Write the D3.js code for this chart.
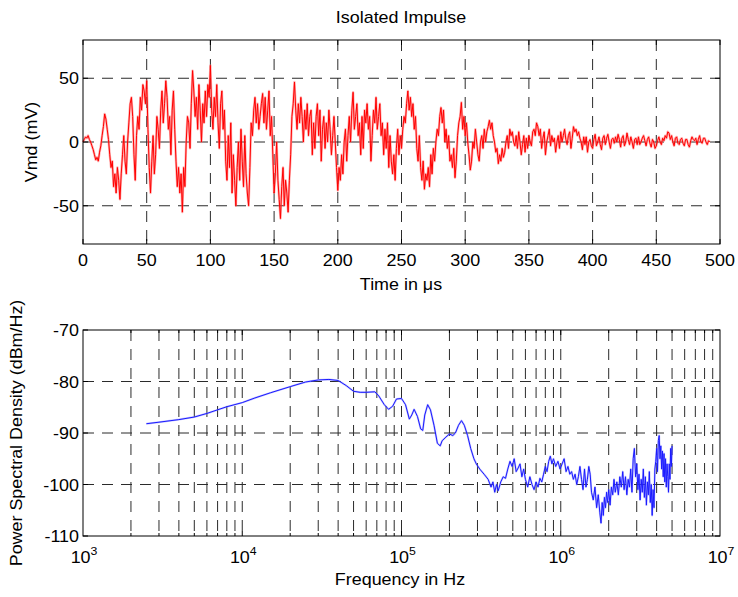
<!DOCTYPE html>
<html>
<head>
<meta charset="utf-8">
<script src="https://cdn.jsdelivr.net/npm/d3@7"></script>
<style>
  html, body { margin: 0; padding: 0; background: #fff; }
  svg { display: block; }
  text { font-family: "Liberation Sans", Arial, sans-serif; fill: #000; }
</style>
</head>
<body>
<svg id="chart" width="738" height="597"></svg>
<script>
// ---------------- DATA ----------------
const chartTitle = "Isolated Impulse";
const timeStep = 1; // microseconds between samples
const impulseValues = [
  0, 2, 4, 3, 5, 2, 0, -3, -6, -10,
  -14, -12, -15, -8, -3, 5, 12, 22, 18, 10,
  2, -10, -20, -15, -35, -25, -40, -20, -30, -45,
  -25, -10, 5, -15, -25, 0, 15, 30, 35, 20,
  -10, -30, 5, 20, 10, 35, 25, 45, 40, 30,
  48, 10, -20, -40, -15, 5, -25, -10, 20, 10,
  -5, 25, 40, 15, 30, 48, 35, 10, 20, -10,
  25, 40, 10, -15, -35, -20, -40, -25, -55, -20,
  -35, 0, 20, 15, -5, 30, 56, 40, 20, 35,
  10, 45, 25, 0, 30, 15, 40, 20, 45, 35,
  60, 25, 10, 35, 20, 45, 15, -5, 30, 40,
  10, 25, -15, -30, 5, -20, 15, -40, -10, -30,
  -50, -20, 0, -30, 10, -15, -35, 5, -25, -40,
  -50, -20, 15, 5, 25, 35, 15, 30, 10, 20,
  30, 38, 15, 35, 10, 25, 40, 5, 20, -10,
  -40, -25, 0, -30, -45, -60, -35, -20, -50, -30,
  -40, -55, -30, -10, 20, 30, 47, 25, 10, 30,
  15, 35, 20, 0, 25, 10, 30, 5, 20, 25,
  -10, 15, -5, 20, 30, 5, 25, -15, 10, 20,
  -5, 15, 0, 25, 10, -10, 5, 20, 0, -20,
  -38, -20, -30, -10, -25, 0, 10, -15, 5, 20,
  0, 25, 39, 10, 20, 30, 5, 15, -10, 20,
  -5, 25, 15, 30, 10, 20, -15, 5, 25, 15,
  35, 10, 20, 30, 5, 15, -10, 10, -5, 15,
  -20, 5, -15, -25, -10, -30, -5, 10, -10, 5,
  -5, 10, 20, 15, 30, 40, 25, 35, 20, 30,
  10, 20, -5, -15, 5, -20, -30, -15, -37, -25,
  -30, -20, -35, -10, -25, -5, -15, 0, 10, 5,
  20, 27, 15, 25, 0, 10, -5, 5, -15, -10,
  -20, -5, -28, -15, 5, 15, 20, 31, 10, 20,
  5, 15, 0, -10, -22, -15, 0, -5, 10, 0,
  -10, -15, 0, 5, -5, 10, 0, 8, 12, 17,
  10, 15, 5, 0, -8, -5, -17, -10, -15, -5,
  -12, -8, 0, 5, -5, 10, 5, 8, 0, -3,
  5, -5, 8, 0, -10, -2, 5, -8, 3, -5,
  5, 0, -3, 8, 10, 5, 15, 12, 5, 10,
  -5, 3, 8, -10, 0, 5, 10, -3, 5, 0,
  3, -8, 0, 5, -5, 8, 0, 5, 10, 2,
  -2, 5, 8, -5, 3, 12, 8, 10, 5, 8,
  3, 0, -6, 4, -2, 4, -8, 0, 2, -3,
  -5, 2, 6, -3, 0, 4, -2, -6, 3, 5,
  -2, 3, 6, 0, -5, 2, 3, -1, 4, 0,
  6, 2, -4, 3, 5, -3, 0, 7, 2, -2,
  4, 0, -5, 2, 3, -2, 4, -2, 0, 3,
  5, 1, -3, 2, 4, -1, -4, 2, 0, -5,
  -3, 1, 4, 0, -2, 3, 1, 5, 3, 8,
  7, 2, 5, 0, -3, 3, 4, -1, -2, 2,
  3, -1, -3, 2, 2, -2, -4, 1, 4, 2,
  1, 3, -2, 2, 5, 0, -1, 3, 3, 0,
  -2, 1, 0
];
const timeTicks = [0, 50, 100, 150, 200, 250, 300, 350, 400, 450, 500];
const voltTicks = [-50, 0, 50];

const psdFreq = [
  2500, 3000, 4000, 5000, 6000, 7000, 8000, 10000, 12000, 15000,
  20000, 25000, 30000, 35000, 40000, 45000, 50000, 55000, 60000, 68000,
  72000, 78000, 83000, 88000, 93000, 100000, 106000, 112000, 116000, 120000,
  126000, 132000, 136000, 140000, 146000, 152000, 160000, 168000, 175000, 180000,
  190000, 200000, 210000, 218000, 228000, 238000, 248000, 260000, 272000, 285000,
  295000, 310000, 330000, 350000, 365000, 375000, 385000, 395000, 405000, 420000,
  435000, 450000, 465000, 480000, 495000, 510000, 525000, 540000, 555000, 570000,
  585000, 600000, 620000, 640000, 660000, 680000, 700000, 720000, 740000, 760000,
  780000, 800000, 820000, 840000, 860000, 880000, 900000, 930000, 960000, 990000,
  1020000, 1050000, 1080000, 1110000, 1140000, 1170000, 1200000, 1230000, 1260000, 1290000,
  1320000, 1350000, 1380000, 1410000, 1440000, 1470000, 1500000, 1530000, 1560000, 1600000,
  1640000, 1680000, 1720000, 1760000, 1790000, 1820000, 1850000, 1880000, 1910000, 1940000,
  1970000, 2000000, 2040000, 2080000, 2120000, 2160000, 2200000, 2250000, 2300000, 2350000,
  2400000, 2450000, 2500000, 2550000, 2600000, 2650000, 2700000, 2750000, 2800000, 2850000,
  2900000, 2950000, 3000000, 3050000, 3100000, 3150000, 3200000, 3250000, 3300000, 3350000,
  3400000, 3450000, 3500000, 3550000, 3600000, 3650000, 3700000, 3750000, 3800000, 3850000,
  3900000, 3950000, 4000000, 4050000, 4100000, 4150000, 4200000, 4250000, 4300000, 4350000,
  4400000, 4450000, 4500000, 4550000, 4600000, 4650000, 4700000, 4750000, 4800000, 4850000,
  4900000, 4950000, 5000000
];
const psdValue = [
  -88.2, -87.9, -87.4, -86.9, -86.2, -85.5, -84.9, -84.1, -83.2, -82.2,
  -81.0, -80.1, -79.7, -79.6, -79.8, -80.8, -81.9, -82.1, -82.1, -82.0,
  -82.8, -84.5, -85.4, -84.8, -83.4, -83.3, -84.5, -87.3, -86.5, -85.4,
  -86.8, -89.2, -89.5, -86.5, -84.5, -85.5, -88.5, -92.0, -92.5, -91.5,
  -90.8, -90.2, -90.5, -90.0, -88.5, -87.6, -88.5, -90.5, -93.0, -95.0,
  -96.0, -97.0, -98.0, -99.0, -100.5, -99.5, -101.5, -100.0, -101.2, -99.5,
  -98.5, -98.8, -97.0, -95.5, -96.5, -95.0, -97.5, -96.8, -96.0, -98.5,
  -97.0, -99.0, -100.5, -98.5, -100.0, -101.0, -99.5, -100.5, -98.8, -99.5,
  -98.0, -96.5, -97.5, -95.5, -94.5, -96.0, -95.0, -96.5, -95.5, -97.0,
  -96.0, -95.0, -97.5, -96.5, -98.0, -97.5, -99.0, -98.0, -100.0, -98.5,
  -96.5, -99.0, -101.0, -97.0, -100.5, -99.0, -96.5, -98.0, -101.5, -103.0,
  -100.5, -104.5, -102.0, -105.5, -107.5, -103.5, -106.0, -102.5, -104.5, -101.5,
  -103.5, -101.0, -104.0, -100.5, -102.0, -99.0, -101.5, -99.5, -102.0, -98.5,
  -100.5, -97.5, -101.0, -98.5, -102.0, -99.0, -100.5, -97.0, -101.5, -95.0,
  -93.0, -98.5, -96.0, -101.0, -98.0, -103.0, -99.0, -101.5, -97.0, -102.5,
  -98.5, -104.0, -99.5, -102.0, -97.5, -103.5, -100.0, -106.0, -101.0, -104.5,
  -97.0, -95.5, -93.0, -97.5, -91.5, -90.5, -95.0, -92.5, -97.0, -93.5,
  -98.5, -94.0, -99.5, -95.0, -100.5, -96.0, -98.5, -101.5, -96.0, -99.0,
  -93.0, -96.5, -92.5
];
const psdTicks = [-110, -100, -90, -80, -70];
const psdGridY = [-100, -90, -80];
const freqDecades = [3, 4, 5, 6, 7];

// ---------------- LAYOUT ----------------
const svg = d3.select("#chart");
const FS = 16, SX = 1.12;
const gridColor = "#2b2b2b";
const dash = "11,8";

function label(x, y, s, anchor, rot) {
  return svg.append("text")
    .attr("transform", `translate(${x},${y}) rotate(${rot || 0}) scale(${SX},1)`)
    .attr("text-anchor", anchor || "middle")
    .style("font-size", FS + "px")
    .text(s);
}

// ---------- TOP PLOT ----------
const boxT = { l: 83, r: 720, t: 40, b: 244 };
const xT = d3.scaleLinear().domain([0, 500]).range([boxT.l, boxT.r]);
const yT = d3.scaleLinear().domain([-80, 80]).range([boxT.b, boxT.t]);

const gTop = svg.append("g");
gTop.selectAll("line.vg").data(timeTicks.filter(d => d > 0 && d < 500)).enter().append("line")
  .attr("x1", d => xT(d)).attr("x2", d => xT(d)).attr("y1", boxT.t).attr("y2", boxT.b)
  .attr("stroke", gridColor).attr("stroke-width", 1).attr("stroke-dasharray", dash);
gTop.selectAll("line.hg").data(voltTicks).enter().append("line")
  .attr("y1", d => yT(d)).attr("y2", d => yT(d)).attr("x1", boxT.l).attr("x2", boxT.r)
  .attr("stroke", gridColor).attr("stroke-width", 1).attr("stroke-dasharray", dash);

const lineT = d3.line().x((d, i) => xT(i * timeStep)).y(d => yT(d));
gTop.append("path").datum(impulseValues).attr("d", lineT)
  .attr("fill", "none").attr("stroke", "#ff7070").attr("stroke-width", 2.4).attr("stroke-opacity", 0.55)
  .attr("stroke-linejoin", "round");
gTop.append("path").datum(impulseValues).attr("d", lineT)
  .attr("fill", "none").attr("stroke", "#ff0000").attr("stroke-width", 1)
  .attr("stroke-linejoin", "round");

gTop.append("rect").attr("x", boxT.l).attr("y", boxT.t).attr("width", boxT.r - boxT.l).attr("height", boxT.b - boxT.t)
  .attr("fill", "none").attr("stroke", "#000").attr("stroke-width", 1);
timeTicks.forEach(d => {
  gTop.append("line").attr("x1", xT(d)).attr("x2", xT(d)).attr("y1", boxT.b).attr("y2", boxT.b - 5).attr("stroke", "#000");
  gTop.append("line").attr("x1", xT(d)).attr("x2", xT(d)).attr("y1", boxT.t).attr("y2", boxT.t + 5).attr("stroke", "#000");
  label(xT(d), 266, String(d), "middle");
});
voltTicks.forEach(d => {
  gTop.append("line").attr("x1", boxT.l).attr("x2", boxT.l + 5).attr("y1", yT(d)).attr("y2", yT(d)).attr("stroke", "#000");
  gTop.append("line").attr("x1", boxT.r).attr("x2", boxT.r - 5).attr("y1", yT(d)).attr("y2", yT(d)).attr("stroke", "#000");
  label(79, yT(d) + 6, String(d), "end");
});
label(401, 23, chartTitle, "middle");
label(401, 290, "Time in μs", "middle");
label(37, 142, "Vmd (mV)", "middle", -90);

// ---------- BOTTOM PLOT ----------
const boxB = { l: 83, r: 720, t: 330, b: 536 };
const xB = d3.scaleLog().domain([1e3, 1e7]).range([boxB.l, boxB.r]);
const yB = d3.scaleLinear().domain([-110, -70]).range([boxB.b, boxB.t]);

const gBot = svg.append("g");
const minorF = [];
for (let e = 3; e < 7; e++) for (let m = 1; m <= 9; m++) { if (!(m === 1 && e === 3)) minorF.push(m * Math.pow(10, e)); }

gBot.selectAll("line.vg").data(minorF).enter().append("line")
  .attr("x1", d => xB(d)).attr("x2", d => xB(d)).attr("y1", boxB.t).attr("y2", boxB.b)
  .attr("stroke", gridColor).attr("stroke-width", 1).attr("stroke-dasharray", dash);
gBot.selectAll("line.hg").data(psdGridY).enter().append("line")
  .attr("y1", d => yB(d)).attr("y2", d => yB(d)).attr("x1", boxB.l).attr("x2", boxB.r)
  .attr("stroke", gridColor).attr("stroke-width", 1).attr("stroke-dasharray", dash);

const lineB = d3.line().x((d, i) => xB(psdFreq[i])).y(d => yB(d));
gBot.append("path").datum(psdValue).attr("d", lineB)
  .attr("fill", "none").attr("stroke", "#7a7aff").attr("stroke-width", 2).attr("stroke-opacity", 0.45)
  .attr("stroke-linejoin", "round");
gBot.append("path").datum(psdValue).attr("d", lineB)
  .attr("fill", "none").attr("stroke", "#1a1aff").attr("stroke-width", 1)
  .attr("stroke-linejoin", "round");

gBot.append("rect").attr("x", boxB.l).attr("y", boxB.t).attr("width", boxB.r - boxB.l).attr("height", boxB.b - boxB.t)
  .attr("fill", "none").attr("stroke", "#000").attr("stroke-width", 1);
minorF.forEach(d => {
  const major = Math.abs(Math.log10(d) - Math.round(Math.log10(d))) < 1e-9;
  const len = major ? 5 : 3;
  gBot.append("line").attr("x1", xB(d)).attr("x2", xB(d)).attr("y1", boxB.b).attr("y2", boxB.b - len).attr("stroke", "#000");
  gBot.append("line").attr("x1", xB(d)).attr("x2", xB(d)).attr("y1", boxB.t).attr("y2", boxB.t + len).attr("stroke", "#000");
});
psdTicks.forEach(d => {
  gBot.append("line").attr("x1", boxB.l).attr("x2", boxB.l + 5).attr("y1", yB(d)).attr("y2", yB(d)).attr("stroke", "#000");
  gBot.append("line").attr("x1", boxB.r).attr("x2", boxB.r - 5).attr("y1", yB(d)).attr("y2", yB(d)).attr("stroke", "#000");
  label(79, yB(d) + 6, String(d), "end");
});
freqDecades.forEach(e => {
  const t = svg.append("text")
    .attr("transform", `translate(${xB(Math.pow(10, e)) + 1},563) scale(${SX},1)`)
    .attr("text-anchor", "middle")
    .style("font-size", FS + "px");
  t.append("tspan").text("10");
  t.append("tspan").attr("dy", -8).style("font-size", "11px").text(String(e));
});
label(400, 585, "Frequency in Hz", "middle");
label(22, 433, "Power Spectral Density (dBm/Hz)", "middle", -90);
</script>
</body>
</html>
